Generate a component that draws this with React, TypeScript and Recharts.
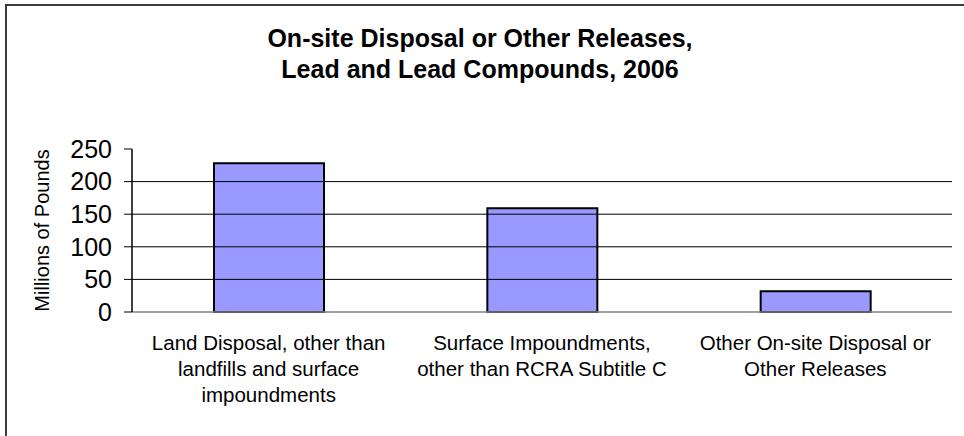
import { Bar, BarChart, Label, ReferenceLine, XAxis, YAxis } from 'recharts';

const categories = [
  'Land Disposal, other than landfills and surface impoundments',
  'Surface Impoundments, other than RCRA Subtitle C',
  'Other On-site Disposal or Other Releases',
];
const categoryLines = [
  ['Land Disposal, other than', 'landfills and surface', 'impoundments'],
  ['Surface Impoundments,', 'other than RCRA Subtitle C'],
  ['Other On-site Disposal or', 'Other Releases'],
];
const pounds = [228, 159, 32];
const yTicks = [0, 50, 100, 150, 200, 250];
const gridValues = [50, 100, 150, 200];
const boundaryTicks = [0, 1, 2, 3];

const titleLines = ['On-site Disposal or Other Releases,', 'Lead and Lead Compounds, 2006'];

const table = categories.map((name, i) => ({ name, pos: i + 0.5, pounds: pounds[i] }));

const font = '"Liberation Sans", Arial, sans-serif';

function CategoryTick(props: any) {
  const { x, y, payload } = props;
  const lines = categoryLines[payload.index] ?? [payload.value];
  return (
    <text x={x} y={y} textAnchor="middle" fontSize={20.5} fill="#000" fontFamily={font}>
      {lines.map((line, i) => (
        <tspan key={i} x={x} dy={i === 0 ? 29 : 26}>
          {line}
        </tspan>
      ))}
    </text>
  );
}

function YLabel(props: any) {
  const { viewBox } = props;
  const cx = 42;
  const cy = viewBox.y + viewBox.height / 2;
  return (
    <text
      x={cx}
      y={cy}
      transform={`rotate(-90 ${cx} ${cy})`}
      textAnchor="middle"
      dominantBaseline="central"
      fontSize={20}
      fontFamily={font}
      fill="#000"
    >
      Millions of Pounds
    </text>
  );
}

export default function App() {
  return (
    <div
      style={{
        position: 'fixed',
        left: 0,
        top: 0,
        width: 964,
        height: 436,
        overflow: 'hidden',
        background: '#fff',
        fontFamily: font,
      }}
    >
      <div
        style={{
          position: 'absolute',
          left: 5,
          top: 4,
          width: 2000,
          height: 2000,
          borderLeft: '2px solid #3a3a3a',
          borderTop: '2px solid #3a3a3a',
        }}
      />
      <div
        style={{
          position: 'absolute',
          left: 0,
          top: 23,
          width: 960,
          textAlign: 'center',
          fontWeight: 'bold',
          fontSize: 25,
          lineHeight: '31px',
          color: '#000',
        }}
      >
        {titleLines.map((t) => (
          <div key={t}>{t}</div>
        ))}
      </div>
      <BarChart
        width={964}
        height={436}
        data={table}
        margin={{ top: 149, right: 12, left: 0, bottom: 0 }}
        style={{ position: 'absolute', left: 0, top: 0 }}
      >
        <XAxis
          xAxisId="a"
          type="number"
          dataKey="pos"
          domain={[0, 3]}
          ticks={boundaryTicks}
          allowDataOverflow
          tick={false}
          tickSize={6}
          height={7}
          axisLine={{ stroke: '#808080', strokeWidth: 1.5 }}
          tickLine={{ stroke: '#808080', strokeWidth: 1.5 }}
        />
        <XAxis
          xAxisId="b"
          dataKey="name"
          interval={0}
          height={117}
          axisLine={false}
          tickLine={false}
          tickSize={0}
          tick={<CategoryTick />}
        />
        <YAxis
          width={132}
          domain={[0, 250]}
          ticks={yTicks}
          interval={0}
          tickSize={8}
          tickMargin={12}
          axisLine={{ stroke: '#000', strokeWidth: 1.5 }}
          tickLine={{ stroke: '#000', strokeWidth: 1 }}
          tick={{ fontSize: 25, fill: '#000', fontFamily: font }}
        >
          <Label content={<YLabel />} />
        </YAxis>
        {gridValues.map((v) => (
          <ReferenceLine key={v} y={v} xAxisId="a" stroke="#000" strokeWidth={1} />
        ))}
        <Bar
          dataKey="pounds"
          xAxisId="b"
          barSize={110}
          fill="#9999FF"
          stroke="#000"
          strokeWidth={2}
          isAnimationActive={false}
        />
      </BarChart>
    </div>
  );
}
